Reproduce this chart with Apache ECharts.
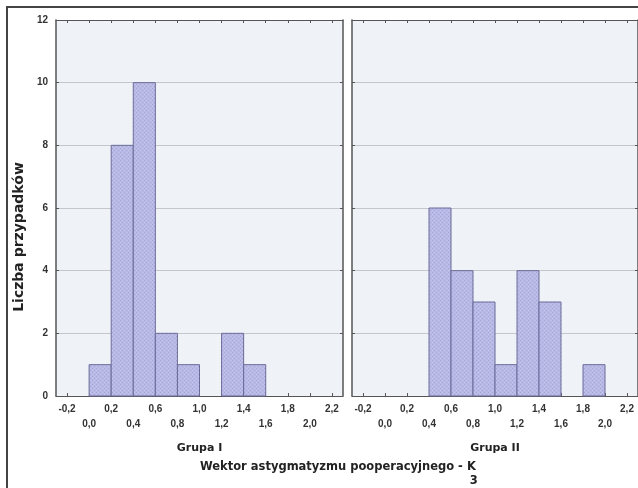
<!DOCTYPE html>
<html><head><meta charset="utf-8">
<script src="https://cdn.jsdelivr.net/npm/echarts@6/dist/echarts.min.js"></script>
<style>html,body{margin:0;padding:0;background:#fff}#c{width:638px;height:488px}</style>
</head><body><div id="c"></div>
<script>
const binStarts = [0.0, 0.2, 0.4, 0.6, 0.8, 1.0, 1.2, 1.4, 1.6, 1.8];
const binWidth = 0.2;
const groupI = [1, 8, 10, 2, 1, 0, 2, 1, 0, 0];
const groupII = [0, 0, 6, 4, 3, 1, 4, 3, 0, 1];
const xTicks = [-0.2, 0.0, 0.2, 0.4, 0.6, 0.8, 1.0, 1.2, 1.4, 1.6, 1.8, 2.0, 2.2];
const xTickLabels = ['-0,2','0,0','0,2','0,4','0,6','0,8','1,0','1,2','1,4','1,6','1,8','2,0','2,2'];
const groupNames = ['Grupa I', 'Grupa II'];
const yName = 'Liczba przypadków';
const xTitle = 'Wektor astygmatyzmu pooperacyjnego - K';
const xTitleSub = '3';

const chart = echarts.init(document.getElementById('c'));
const FONT = 'Liberation Sans, Arial, sans-serif';
const NFONT = 'DejaVu Sans, sans-serif';

// cross-hatch fill pattern
const pat = document.createElement('canvas');
pat.width = 4; pat.height = 4;
(function () {
  const g = pat.getContext('2d');
  g.fillStyle = '#b9b9e6'; g.fillRect(0, 0, 4, 4);
  g.fillStyle = '#a5a5d6';
  g.fillRect(0, 0, 1, 1); g.fillRect(2, 2, 1, 1);
  g.fillStyle = '#c4c4ee';
  g.fillRect(2, 0, 1, 1); g.fillRect(0, 2, 1, 1);
})();

const titleFont = 'bold 11.5px ' + NFONT;
const mctx = document.createElement('canvas').getContext('2d');
mctx.font = titleFont;
const titleW = mctx.measureText(xTitle).width;

function fmtX(v) {
  let i = xTicks.findIndex(t => Math.abs(t - v) < 1e-6);
  if (i < 0) return '';
  return (i % 2 ? '\n' : '') + xTickLabels[i];
}
function xAxis(gi) {
  return {
    type: 'value', gridIndex: gi, min: -0.3, max: 2.3,
    name: groupNames[gi], nameLocation: 'middle', nameGap: 47,
    nameTextStyle: {fontFamily: NFONT, fontWeight: 'bold', fontSize: 11, color: '#222'},
    axisLine: {show: true, onZero: false, lineStyle: {color: '#555', width: 1}},
    axisTick: {show: true, customValues: xTicks, inside: true, length: 3, lineStyle: {color: '#555'}},
    axisLabel: {customValues: xTicks, formatter: fmtX, fontFamily: FONT, fontWeight: 'bold', fontSize: 10, color: '#333', lineHeight: 15, margin: 6},
    splitLine: {show: false}
  };
}
function yAxis(gi) {
  return {
    type: 'value', gridIndex: gi, min: 0, max: 12, interval: 2,
    axisLine: {show: true, onZero: false, lineStyle: {color: '#555', width: 1.5}},
    axisTick: {show: true, inside: true, length: 3, lineStyle: {color: '#555'}},
    axisLabel: {show: gi === 0, fontFamily: FONT, fontWeight: 'bold', fontSize: 10, color: '#333', margin: 8},
    splitLine: {show: true, lineStyle: {color: '#c4c6cc', width: 1}}
  };
}
function histSeries(gi, counts) {
  return {
    type: 'custom', xAxisIndex: gi, yAxisIndex: gi,
    data: binStarts.map((s, i) => [s, s + binWidth, counts[i]]).filter(d => d[2] > 0),
    encode: {x: [0, 1], y: 2},
    renderItem: function (params, api) {
      const p0 = api.coord([api.value(0), 0]);
      const p1 = api.coord([api.value(1), api.value(2)]);
      return {
        type: 'rect',
        shape: {x: p0[0], y: p1[1], width: p1[0] - p0[0], height: p0[1] - p1[1]},
        style: {fill: {image: pat, repeat: 'repeat'}, stroke: '#6b6b99', lineWidth: 1}
      };
    }
  };
}

chart.setOption({
  backgroundColor: '#fff',
  animation: false,
  graphic: [
    {type: 'polyline', shape: {points: [[7, 488], [7, 7], [638, 7]]}, style: {stroke: '#444', lineWidth: 2, fill: null}, silent: true},
    {type: 'text', x: 19, y: 237, rotation: Math.PI / 2, silent: true,
      style: {text: yName, font: 'bold 14px ' + NFONT, fill: '#222', align: 'center', verticalAlign: 'middle'}},
    {type: 'text', x: 200, y: 467, silent: true,
      style: {text: xTitle, font: titleFont, fill: '#222', align: 'left', verticalAlign: 'middle'}},
    {type: 'text', x: 200 + titleW - 6, y: 481, silent: true,
      style: {text: xTitleSub, font: titleFont, fill: '#222', align: 'left', verticalAlign: 'middle'}}
  ],
  grid: [
    {left: 56, right: 295, top: 20, bottom: 92, show: true, backgroundColor: '#eff2f7', borderWidth: 0},
    {left: 352, right: 0, top: 20, bottom: 92, show: true, backgroundColor: '#eff2f7', borderWidth: 0}
  ],
  xAxis: [xAxis(0), xAxis(1),
    Object.assign(xAxis(0), {position: 'top', name: '', axisLabel: {show: false}}),
    Object.assign(xAxis(1), {position: 'top', name: '', axisLabel: {show: false}})],
  yAxis: [yAxis(0), yAxis(1),
    Object.assign(yAxis(0), {position: 'right', axisLabel: {show: false}, splitLine: {show: false}}),
    Object.assign(yAxis(1), {position: 'right', axisLabel: {show: false}, splitLine: {show: false}})],
  series: [histSeries(0, groupI), histSeries(1, groupII)]
});
</script></body></html>
